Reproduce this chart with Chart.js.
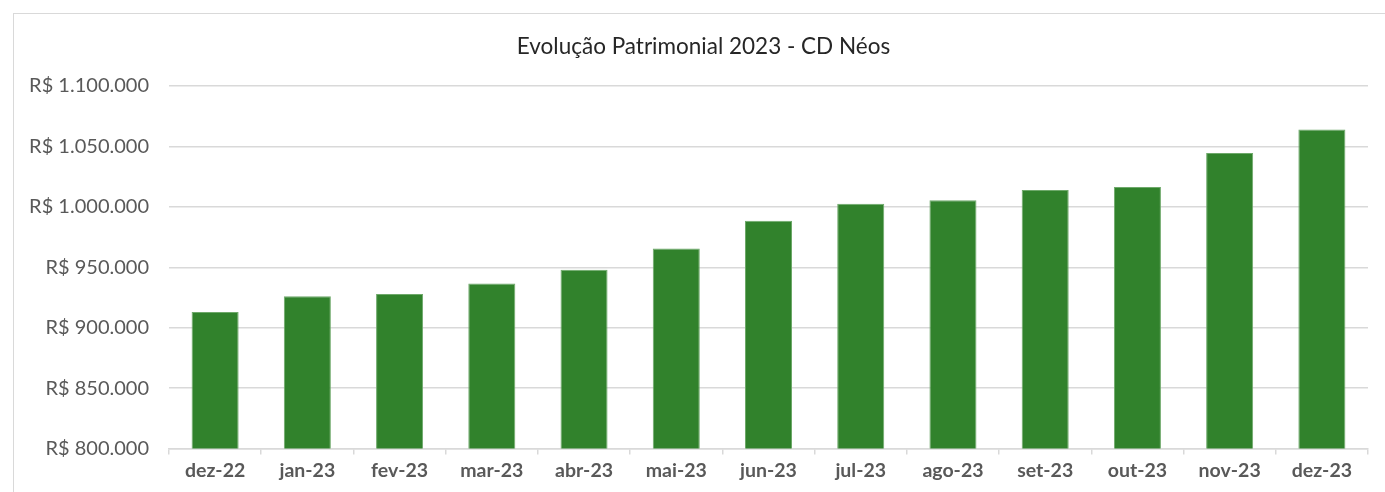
<!DOCTYPE html>
<html>
<head>
<meta charset="utf-8">
<script src="https://cdn.jsdelivr.net/npm/chart.js@4/dist/chart.umd.min.js"></script>
<style>
  html, body { margin: 0; padding: 0; width: 1385px; height: 492px; overflow: hidden; background: #fff; }
  #frame { position: absolute; left: 13px; top: 13px; width: 1379px; height: 520px; border: 1.5px solid #d9d9d9; box-sizing: border-box; background: #fff; }
  #wrap { position: absolute; left: 14px; top: 14px; width: 1379px; height: 478px; }
</style>
</head>
<body>
<div id="frame"></div>
<div id="wrap"><canvas id="c" width="1379" height="478"></canvas></div>
<script>
const titleText = 'Evolução Patrimonial 2023 - CD Néos';
const categories = ['dez-22','jan-23','fev-23','mar-23','abr-23','mai-23','jun-23','jul-23','ago-23','set-23','out-23','nov-23','dez-23'];
const patrimonio = [913000, 926000, 928000, 936500, 948000, 965500, 988500, 1002500, 1005500, 1014000, 1016500, 1044500, 1064000];
const yMin = 800000;
const yMax = 1100000;
const yStep = 50000;

function fmtBRL(v) {
  const s = Math.round(v).toString().replace(/\B(?=(\d{3})+(?!\d))/g, '.');
  return 'R$ ' + s;
}

new Chart(document.getElementById('c'), {
  type: 'bar',
  data: {
    labels: categories,
    datasets: [{
      data: patrimonio,
      backgroundColor: '#31822c',
      borderColor: '#6ea96a',
      borderWidth: 1,
      barPercentage: 0.51,
      categoryPercentage: 1.0
    }]
  },
  options: {
    responsive: false,
    animation: false,
    layout: { padding: { left: 0, right: 0, top: 0, bottom: 6 } },
    plugins: {
      legend: { display: false },
      tooltip: { enabled: false },
      title: {
        display: true,
        text: titleText,
        color: '#262626',
        font: { family: 'Lato', size: 22.5, weight: 'normal' },
        padding: { top: 19, bottom: 26 }
      }
    },
    scales: {
      x: {
        grid: { display: true, drawOnChartArea: false, drawTicks: true, tickLength: 6, color: '#d9d9d9', lineWidth: 1.5, offset: true },
        border: { display: true, color: '#d9d9d9', width: 1.5 },
        ticks: { color: '#595959', font: { family: 'Lato', size: 19.5, weight: 'bold' }, padding: 4, maxRotation: 0 }
      },
      y: {
        min: yMin,
        max: yMax,
        afterFit: (s) => { s.width = 155; },
        grid: { color: '#d9d9d9', lineWidth: 1.5, drawTicks: false },
        border: { display: false },
        ticks: {
          stepSize: yStep,
          padding: 20,
          color: '#595959',
          font: { family: 'Lato', size: 20 },
          callback: (v) => fmtBRL(v)
        }
      },
      yRightSpace: {
        type: 'linear',
        position: 'right',
        min: yMin,
        max: yMax,
        afterFit: (s) => { s.width = 25; },
        grid: { display: false, drawTicks: false },
        border: { display: false },
        ticks: { display: false }
      }
    }
  }
});
</script>
</body>
</html>
